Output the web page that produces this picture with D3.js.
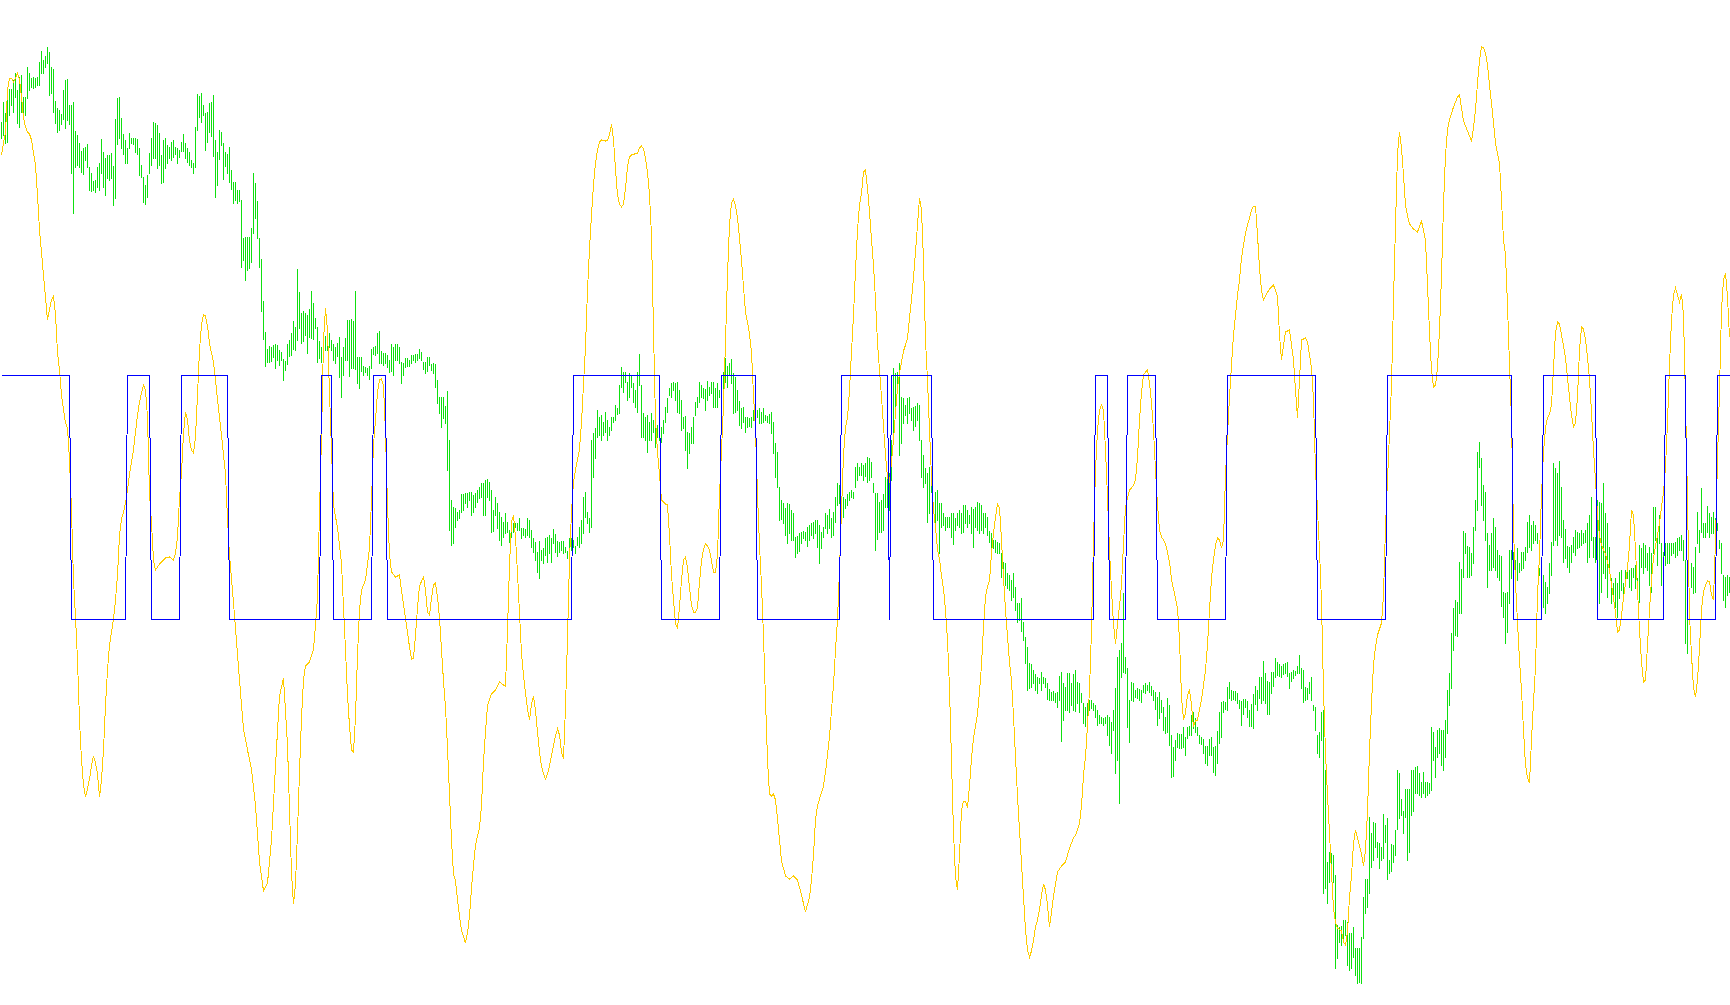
<!DOCTYPE html>
<html><head><meta charset="utf-8">
<script src="https://cdn.jsdelivr.net/npm/d3@7"></script>
<style>html,body{margin:0;padding:0;background:#fff;overflow:hidden}svg{display:block}</style>
</head><body><svg id="c" width="1730" height="1005"></svg>
<script>
// Price bars (high / low), one per bar, in price points
const barHigh = [
878,898,887,911,911,911,920,927,910,923,
925,903,903,933,927,922,923,922,923,938,
949,940,944,953,948,933,931,899,892,890,
886,910,920,921,895,895,898,869,865,857,
849,852,853,856,833,827,819,820,833,837,
861,848,842,845,845,847,834,881,902,903,
882,866,860,852,867,862,862,862,861,852,
835,823,815,825,847,862,878,877,875,867,
845,860,862,855,853,858,860,853,852,850,
858,866,857,852,848,840,837,873,906,904,
907,895,887,888,897,898,905,860,848,870,
868,857,848,846,853,830,818,818,810,810,
800,762,763,763,763,772,827,817,799,762,
741,699,668,651,654,653,655,656,655,650,
648,641,639,656,660,667,679,673,731,708,
687,689,687,685,691,709,697,682,673,659,
653,651,664,661,667,660,656,653,657,663,
643,653,662,680,680,681,679,709,643,643,
643,634,633,632,634,651,653,654,667,669,
649,647,647,645,640,656,653,656,656,653,
638,637,642,642,640,645,645,646,646,651,
648,638,638,643,643,636,637,636,620,603,
603,603,594,609,560,500,493,492,488,490,
506,506,507,507,508,508,505,507,510,513,
517,517,520,521,518,510,490,503,497,488,
483,478,487,478,470,480,477,477,477,482,
472,472,471,482,480,470,462,458,448,459,
450,452,462,463,465,462,471,466,459,458,
459,459,453,449,462,462,460,454,463,473,
480,503,508,488,482,560,567,572,590,583,
585,578,588,580,573,583,583,595,592,615,
633,628,628,618,627,625,617,610,628,646,
615,587,583,585,578,587,580,577,575,573,
573,580,593,602,612,617,618,617,618,610,
600,583,584,568,567,573,583,598,603,618,
615,612,611,619,613,618,618,612,617,610,
623,628,642,634,637,641,627,623,610,599,
592,593,583,583,582,583,590,588,590,592,
588,592,585,584,586,588,578,557,548,513,
500,497,492,497,496,490,487,463,464,467,
468,469,468,473,475,477,478,480,480,475,
468,473,487,485,491,482,488,503,517,515,
504,503,501,506,508,510,508,533,537,533,
537,535,537,543,542,538,517,507,507,498,
500,506,523,527,527,560,632,627,628,637,
603,602,595,602,603,592,593,594,597,595,
560,545,532,527,533,517,497,508,510,497,
497,487,483,483,483,487,487,482,487,490,
487,495,495,490,485,493,491,493,498,497,
495,487,487,483,469,467,460,460,458,457,
447,438,437,427,425,420,427,413,397,397,
402,378,363,353,337,336,330,326,323,322,
328,323,322,317,311,308,309,307,308,324,
328,317,313,327,327,317,326,330,318,317,
307,297,293,297,300,300,297,295,290,285,
283,282,283,285,283,278,290,312,343,350,
357,407,343,332,300,318,317,310,312,311,
310,315,317,315,318,314,310,308,303,308,
300,293,283,302,295,265,253,260,267,266,
266,273,263,273,274,285,288,282,273,265,
263,261,254,254,261,263,253,254,269,288,
298,299,298,313,318,310,309,309,307,300,
299,301,301,299,290,296,306,314,310,323,
323,339,327,319,318,328,328,342,338,336,
334,336,337,338,327,328,330,329,334,345,
332,330,313,312,318,323,295,293,265,268,
288,290,230,138,148,147,145,125,75,73,
74,80,80,78,67,67,73,52,52,52,
63,103,121,121,183,167,178,177,158,157,
153,186,175,182,140,156,155,170,230,227,
201,189,211,211,211,230,230,233,234,227,
218,228,218,218,217,273,268,253,270,272,
270,270,280,310,327,367,392,400,398,438,
431,469,467,454,453,447,473,500,548,558,
542,515,508,467,455,467,482,473,450,445,
444,408,407,408,450,450,448,440,452,437,
448,448,453,478,485,475,479,475,467,432,
425,425,418,413,437,458,537,532,527,539,
513,480,471,454,453,455,463,470,468,467,
470,467,470,477,485,503,463,463,500,498,
497,517,487,477,453,422,417,422,417,428,
430,417,430,433,430,432,432,435,422,455,
452,457,455,447,453,447,493,493,468,485,
457,448,457,457,457,457,457,458,462,463,
465,460,440,417,403,437,433,453,488,470,
512,477,477,494,487,483,488,482,477,460,
457,425,423,425,423
];
const barLow = [
862,865,857,858,885,895,888,903,877,873,
888,888,885,902,910,913,912,913,915,915,
927,927,933,937,905,907,888,877,868,870,
876,881,872,880,876,827,787,833,835,833,
828,826,840,833,810,809,810,808,813,810,
827,813,805,822,820,822,795,802,856,862,
852,846,837,837,852,857,856,848,846,825,
823,798,796,803,827,835,842,842,832,835,
817,818,832,837,842,840,843,846,837,843,
849,849,842,838,835,833,827,833,870,883,
878,885,850,858,868,864,844,803,815,841,
855,821,834,827,818,811,797,800,797,799,
733,740,720,730,732,738,767,782,762,733,
689,661,634,638,638,639,643,632,640,635,
640,620,630,636,644,645,651,650,660,672,
657,659,665,647,663,662,661,672,638,642,
638,640,650,650,653,650,640,637,644,623,
603,625,640,640,624,632,632,631,617,612,
629,625,628,625,621,632,646,645,647,637,
637,635,637,633,628,629,625,640,640,637,
617,625,633,634,634,637,640,638,640,642,
640,631,627,629,635,630,627,613,597,587,
573,582,577,530,470,455,457,473,480,482,
488,490,497,493,500,485,488,493,498,502,
503,485,485,503,500,468,469,485,472,460,
455,463,467,468,458,463,468,473,470,470,
462,465,463,465,463,453,448,440,428,422,
440,437,445,438,447,438,457,448,444,448,
450,447,448,442,448,450,453,447,455,453,
457,467,483,477,468,473,523,542,563,565,
560,565,568,560,565,570,578,580,586,587,
613,608,618,600,603,613,598,593,588,615,
563,563,560,548,560,560,568,553,563,560,
558,567,578,588,605,603,610,600,588,587,
570,572,550,532,547,557,557,585,593,598,
603,602,590,600,605,607,593,593,593,603,
608,612,618,613,625,617,587,588,590,575,
572,578,568,573,574,573,580,575,583,577,
577,578,580,578,577,567,547,523,513,480,
481,477,465,457,467,460,460,443,447,449,
457,462,460,454,460,465,462,467,453,437,
452,463,472,467,472,463,465,478,495,497,
493,483,492,495,500,503,502,513,520,525,
525,520,524,518,520,523,508,450,461,468,
468,470,493,493,490,520,568,587,613,545,
557,577,585,577,587,580,570,574,580,560,
523,513,517,478,487,508,490,468,480,447,
473,475,470,473,473,463,456,470,475,473,
467,468,477,473,477,467,453,473,470,467,
470,467,473,465,458,453,452,448,447,447,
423,428,415,412,410,400,403,390,378,380,
369,360,337,310,312,313,317,310,307,317,
310,317,313,301,300,300,300,298,293,300,
259,280,290,290,288,295,290,289,297,288,
298,277,274,282,290,292,290,283,275,277,
277,275,277,265,255,247,270,227,240,197,
323,328,327,273,258,300,299,303,302,300,
298,308,307,310,308,305,300,291,275,282,
288,270,267,268,255,223,224,240,253,252,
252,253,245,262,265,265,272,268,265,257,
256,247,237,235,245,245,228,225,237,257,
263,288,291,290,302,300,301,300,297,292,
275,286,293,283,274,274,272,296,290,302,
297,300,297,286,286,307,314,323,325,324,
323,326,327,324,312,319,322,325,327,327,
312,298,300,301,307,300,290,270,247,243,
260,107,112,97,118,127,118,32,42,58,
55,60,65,35,30,32,43,25,17,18,
17,62,87,93,107,133,140,153,143,132,
140,142,158,121,127,129,138,145,171,182,
185,167,183,140,148,185,189,207,207,205,
203,207,203,205,207,210,240,223,243,247,
235,230,243,267,295,312,350,365,364,387,
387,423,447,423,423,425,437,470,490,533,
495,480,460,413,430,430,433,430,423,420,
394,383,357,368,397,422,440,425,420,428,
430,432,440,448,453,450,457,460,457,425,
402,393,387,397,407,425,455,460,455,465,
463,438,442,433,428,438,448,445,452,453,
455,457,458,438,443,460,443,438,407,397,
408,427,422,403,430,397,403,393,383,402,
410,400,417,422,413,410,423,412,402,398,
433,427,433,430,415,408,447,460,435,457,
415,428,435,437,437,445,447,443,445,450,
450,440,357,347,383,413,407,408,457,448,
468,463,463,468,463,467,467,473,470,452,
427,400,393,405,408
];
// Oscillator (yellow): [bar index, value]
const oscillator = [[0,845],[1,857],[2,867],[3,910],[4,922],[5,922],[6,918],[7,922],[8,927],[9,920],[10,903],[11,882],[12,873],[13,868],[14,866],[15,860],[16,847],[17,835],[18,805],[19,770],[21,725],[23,680],[25,700],[26,704],[27,686],[28,647],[29,630],[30,605],[32,577],[33,572],[34,540],[35,490],[36,420],[37,383],[38,340],[39,280],[40,240],[41,215],[42,203],[43,211],[44,221],[45,234],[46,244],[47,237],[48,226],[49,203],[50,220],[51,250],[52,295],[53,330],[54,355],[55,368],[56,381],[57,400],[58,425],[59,465],[60,481],[61,488],[62,497],[63,510],[64,526],[65,538],[66,550],[67,568],[68,585],[69,598],[70,607],[71,615],[72,610],[73,583],[74,507],[75,477],[76,440],[77,430],[78,433],[79,436],[80,438],[82,442],[84,443],[86,440],[87,447],[88,463],[89,502],[90,527],[91,567],[92,588],[93,580],[94,559],[95,550],[96,547],[97,563],[98,605],[99,650],[100,675],[101,685],[102,684],[103,674],[104,657],[105,647],[106,638],[107,620],[108,600],[110,565],[112,526],[113,481],[114,445],[116,397],[117,372],[119,320],[121,271],[123,250],[125,231],[127,194],[129,138],[131,109],[133,117],[135,160],[137,234],[139,304],[141,322],[143,255],[145,127],[146,96],[147,116],[148,168],[149,228],[150,282],[151,320],[152,334],[154,338],[156,351],[157,375],[158,403],[159,490],[160,563],[161,660],[162,692],[163,670],[164,607],[165,550],[166,495],[168,472],[170,437],[171,393],[172,350],[173,305],[174,274],[175,250],[176,248],[177,283],[178,345],[179,390],[180,410],[182,420],[184,452],[185,500],[186,555],[187,580],[188,608],[189,620],[190,621],[191,614],[192,567],[193,495],[194,445],[195,428],[197,423],[199,425],[200,409],[202,382],[204,353],[205,341],[206,342],[207,365],[208,392],[209,414],[211,423],[212,410],[213,388],[214,385],[215,402],[216,415],[217,417],[218,403],[219,382],[220,350],[221,319],[222,293],[223,252],[224,206],[225,160],[226,126],[227,119],[228,100],[229,84],[230,70],[232,57],[233,67],[234,84],[235,112],[236,135],[237,155],[238,164],[239,172],[240,195],[241,238],[242,268],[243,294],[244,301],[245,306],[247,310],[249,318],[251,315],[252,314],[253,370],[254,435],[255,478],[256,485],[257,463],[258,427],[259,387],[260,347],[261,324],[262,307],[263,291],[264,280],[265,296],[266,304],[267,290],[268,268],[269,248],[270,234],[271,226],[272,221],[273,226],[274,234],[275,244],[276,254],[277,264],[278,271],[279,265],[280,248],[281,241],[282,293],[283,362],[284,440],[285,488],[286,518],[287,530],[288,540],[289,551],[290,577],[291,616],[292,653],[293,710],[294,751],[295,785],[296,816],[297,837],[298,850],[299,858],[300,860],[302,859],[303,860],[304,865],[305,876],[306,860],[307,831],[308,805],[309,796],[310,793],[311,796],[312,812],[313,833],[314,843],[315,845],[318,847],[319,852],[320,854],[321,851],[322,842],[323,828],[324,805],[325,765],[326,670],[327,580],[328,548],[329,525],[330,500],[332,496],[333,495],[334,465],[335,425],[336,400],[337,376],[338,372],[339,393],[340,420],[341,440],[342,443],[343,432],[344,412],[345,395],[346,388],[347,388],[348,392],[349,418],[350,439],[351,451],[352,456],[353,454],[354,450],[355,439],[356,428],[357,428],[358,445],[359,505],[360,550],[361,595],[362,659],[363,725],[364,775],[365,797],[366,801],[367,794],[368,782],[369,762],[370,740],[371,713],[372,688],[373,678],[374,666],[375,648],[376,605],[377,570],[378,505],[379,455],[380,415],[381,364],[382,300],[383,240],[384,206],[385,204],[386,206],[387,200],[388,182],[389,160],[390,139],[392,124],[394,121],[396,124],[398,120],[400,105],[402,88],[404,103],[405,120],[406,145],[407,180],[408,194],[409,201],[411,214],[412,228],[413,245],[414,263],[415,290],[416,315],[417,350],[418,380],[419,430],[420,490],[421,545],[422,573],[423,582],[424,610],[425,648],[426,685],[427,730],[428,770],[429,795],[430,807],[431,828],[432,830],[433,812],[434,788],[435,760],[436,735],[437,700],[438,657],[439,630],[440,603],[441,574],[442,545],[443,522],[444,518],[445,538],[446,560],[447,587],[448,612],[449,627],[450,638],[451,649],[452,655],[453,662],[454,682],[455,700],[456,723],[457,748],[458,775],[459,802],[460,790],[461,740],[462,660],[463,620],[464,570],[465,523],[466,490],[467,473],[468,450],[469,441],[470,424],[471,411],[472,390],[473,360],[474,312],[475,240],[476,168],[477,123],[478,110],[479,145],[480,190],[481,199],[482,199],[483,192],[484,214],[485,242],[486,262],[487,274],[488,286],[489,308],[490,335],[491,373],[492,403],[493,414],[494,419],[495,447],[496,467],[497,483],[498,496],[499,492],[500,460],[501,422],[502,390],[503,364],[504,338],[505,319],[506,284],[507,243],[508,204],[509,170],[510,137],[511,103],[512,70],[513,50],[514,43],[515,49],[516,60],[517,73],[518,80],[519,90],[520,105],[521,116],[522,110],[523,95],[524,73],[525,88],[526,104],[528,128],[530,134],[532,138],[534,152],[536,162],[537,165],[538,170],[539,177],[540,194],[541,225],[542,243],[543,275],[544,310],[545,370],[546,460],[547,530],[548,570],[549,590],[550,595],[551,590],[552,550],[553,503],[554,450],[555,410],[556,376],[557,356],[558,376],[559,394],[560,415],[561,456],[562,493],[563,502],[564,510],[565,512],[566,515],[567,520],[568,542],[569,580],[570,608],[571,625],[572,628],[573,630],[574,617],[575,597],[576,570],[577,530],[578,495],[579,470],[580,463],[581,460],[582,456],[583,448],[584,438],[585,421],[586,411],[587,402],[588,392],[589,360],[590,303],[591,280],[592,287],[593,305],[594,310],[595,295],[596,273],[597,280],[598,280],[599,290],[600,300],[602,330],[603,355],[604,390],[605,422],[606,440],[607,455],[608,462],[609,460],[610,452],[611,460],[612,525],[613,565],[614,603],[615,635],[616,665],[617,685],[618,705],[619,720],[620,742],[621,755],[622,767],[623,775],[624,782],[625,790],[626,794],[627,794],[628,765],[629,732],[630,710],[631,700],[632,704],[634,711],[636,715],[638,704],[639,665],[640,640],[641,655],[642,668],[644,670],[645,655],[646,640],[647,610],[648,582],[649,620],[650,660],[652,662],[653,658],[654,645],[655,632],[656,600],[657,530],[658,490],[659,450],[660,398],[661,310],[662,247],[663,205],[664,167],[665,127],[666,92],[667,77],[668,72],[670,69],[671,58],[672,55],[673,68],[674,103],[675,124],[676,157],[677,170],[678,162],[679,154],[680,146],[681,134],[682,150],[683,188],[684,248],[685,297],[686,335],[687,353],[688,365],[689,371],[690,377],[691,405],[692,473],[693,520],[694,567],[695,615],[696,700],[697,775],[698,846],[699,868],[700,852],[701,825],[702,795],[703,784],[704,776],[706,771],[708,768],[710,779],[712,760],[713,715],[714,668],[715,630],[716,613],[717,615],[718,632],[719,670],[720,724],[721,795],[722,845],[723,870],[724,880],[726,893],[728,903],[729,905],[730,892],[731,879],[733,869],[735,859],[736,872],[737,890],[738,917],[739,940],[740,953],[741,952],[742,947],[743,935],[744,915],[745,897],[746,877],[747,857],[748,847],[749,837],[750,800],[751,760],[752,745],[753,695],[754,635],[755,580],[756,470],[757,417],[758,378],[759,340],[760,310],[761,270],[762,235],[763,222],[764,217],[765,260],[766,298],[767,333],[768,405],[769,445],[770,505],[771,548],[772,572],[773,582],[774,586],[775,595],[776,632],[777,667],[778,678],[779,676],[780,665],[781,654],[782,642],[783,622],[784,603],[785,585],[786,573],[787,577],[788,603],[789,650],[790,673],[791,671],[792,660],[793,643],[794,620],[795,588],[796,550],[797,520],[798,485],[799,464],[800,455],[802,446],[804,430],[805,416],[806,402],[807,387],[808,368],[809,370],[810,385],[811,402],[812,417],[813,432],[814,455],[815,490],[816,485],[817,450],[818,410],[819,370],[820,338],[821,318],[822,320],[823,355],[824,390],[825,420],[826,442],[827,454],[828,465],[829,477],[830,493],[831,508],[832,533],[833,577],[834,635],[835,680],[836,705],[837,712],[838,705],[839,698],[840,706],[841,685],[842,600],[843,500],[844,385],[845,345],[846,312],[847,303],[848,320],[849,352],[850,390],[851,408],[852,415],[853,419],[854,418],[855,405],[856,400],[857,460],[858,540],[859,610],[860,690],[861,720],[862,727],[863,703],[864,663]];
// Signal (blue): bar index ranges where the signal is 1 (elsewhere 0)
const signalOnRuns = [[0,34],[63,74],[90,113],[160,165],[186,192],[286,329],[360,377],[420,443],[445,465],[547,553],[563,577],[613,657],[693,755],[771,797],[832,842],[858,864]];

const W = 1730, H = 1005;
const nBars = Math.min(barHigh.length, barLow.length);
const signal = d3.range(865).map(i => signalOnRuns.some(r => i >= r[0] && i <= r[1]) ? 1 : 0);

const x = d3.scaleLinear().domain([0, 864]).range([1.5, 1729.5]);
const yPrice = d3.scaleLinear().domain([0, 1000]).range([1000, 0]);
const yOsc = d3.scaleLinear().domain([0, 1000]).range([1000, 0]);
const ySig = d3.scaleLinear().domain([0, 1]).range([619.5, 375.5]);

const svg = d3.select('#c');
svg.append('rect').attr('width', W).attr('height', H).attr('fill', '#ffffff');

const bars = d3.range(nBars);
svg.append('g').attr('shape-rendering', 'crispEdges')
  .selectAll('line').data(bars).join('line')
  .attr('x1', i => x(i)).attr('x2', i => x(i))
  .attr('y1', i => yPrice(barHigh[i])).attr('y2', i => yPrice(barLow[i]) + 1)
  .attr('stroke', '#0fe00f').attr('stroke-width', 1);

svg.append('path').datum(oscillator)
  .attr('d', d3.line().x(d => x(d[0])).y(d => yOsc(d[1])))
  .attr('fill', 'none').attr('stroke', '#ffcc00').attr('stroke-width', 1)
  .attr('shape-rendering', 'crispEdges');

svg.append('path').datum(signal)
  .attr('d', d3.line().x((d, i) => x(i)).y(d => ySig(d)))
  .attr('fill', 'none').attr('stroke', '#0000ff').attr('stroke-width', 1)
  .attr('shape-rendering', 'crispEdges');
</script>
</body></html>
